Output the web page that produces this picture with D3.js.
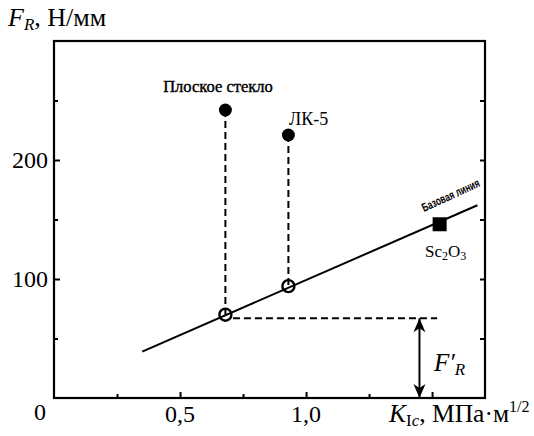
<!DOCTYPE html>
<html><head><meta charset="utf-8">
<script src="https://cdn.jsdelivr.net/npm/d3@7"></script>
<style>body{margin:0;background:#fff}svg{display:block}</style>
</head><body>
<script>
const materials = ["Плоское стекло", "ЛК-5", "Sc2O3"];
const kIc = [0.68, 0.93, 1.53];
const fR = [242, 221, 146];
const fRprime = [70, 94, null];
const baselineK = [0.35, 1.68];
const baselineF = [39, 162];
const fRefLevel = 67;
const fRefK = 1.45;
const fRefDashEnd = 1.52;
const xMajorTicks = [0.5, 1.0, 1.5];
const xMinorTicks = [0.25, 0.75, 1.25];
const xTickLabels = ["0,5", "1,0"];
const yMajorTicks = [100, 200];
const yMinorTicks = [50, 150, 250];
const yTickLabels = ["100", "200"];

const W = 534, H = 436;
const svg = d3.select("body").append("svg").attr("width", W).attr("height", H);
const x = d3.scaleLinear().domain([0, 1.71]).range([54, 485]);
const y = d3.scaleLinear().domain([0, 300]).range([398, 41]);
const serif = "'Liberation Serif','Times New Roman',serif";

// frame
svg.append("rect").attr("x", x(0)).attr("y", y(300)).attr("width", x(1.71) - x(0)).attr("height", y(0) - y(300))
  .attr("fill", "none").attr("stroke", "#000").attr("stroke-width", 2.2);

// ticks (inward) via axes
function styleAxis(g){ g.select(".domain").remove(); g.selectAll("line").attr("stroke","#000").attr("stroke-width",2); g.selectAll("text").remove(); }
svg.append("g").attr("transform", `translate(0,${y(0)})`).call(d3.axisBottom(x).tickValues(xMajorTicks).tickSize(-6)).call(styleAxis);
svg.append("g").attr("transform", `translate(0,${y(0)})`).call(d3.axisBottom(x).tickValues(xMinorTicks).tickSize(-4)).call(styleAxis);
svg.append("g").attr("transform", `translate(${x(0)},0)`).call(d3.axisLeft(y).tickValues(yMajorTicks).tickSize(-6)).call(styleAxis);
svg.append("g").attr("transform", `translate(${x(0)},0)`).call(d3.axisLeft(y).tickValues(yMinorTicks).tickSize(-4)).call(styleAxis);
svg.append("g").attr("transform", `translate(${x(1.71)},0)`).call(d3.axisRight(y).tickValues(yMajorTicks.concat(yMinorTicks)).tickSize(-5)).call(styleAxis);

// tick labels
xTickLabels.forEach((t, i) => {
  svg.append("text").attr("x", x(xMajorTicks[i])).attr("y", 422).attr("text-anchor", "middle")
    .attr("font-family", serif).attr("font-size", 24).text(t);
});
yTickLabels.forEach((t, i) => {
  svg.append("text").attr("x", 48).attr("y", y(yMajorTicks[i]) + 8).attr("text-anchor", "end")
    .attr("font-family", serif).attr("font-size", 24).text(t);
});
svg.append("text").attr("x", 40).attr("y", 420).attr("text-anchor", "middle")
  .attr("font-family", serif).attr("font-size", 24).text("0");

// axis titles
const yt = svg.append("text").attr("x", 8).attr("y", 26).attr("font-family", serif).attr("font-size", 26);
yt.append("tspan").attr("font-style", "italic").text("F");
yt.append("tspan").attr("font-style", "italic").attr("font-size", 17).attr("dy", 4).text("R");
yt.append("tspan").attr("dy", -4).text(", Н/мм");

const xt = svg.append("text").attr("x", 389).attr("y", 422).attr("font-family", serif).attr("font-size", 25.5);
xt.append("tspan").attr("font-style", "italic").text("K");
xt.append("tspan").attr("font-size", 17).attr("dy", 4).text("I");
xt.append("tspan").attr("font-size", 17).attr("font-style", "italic").text("c");
xt.append("tspan").attr("dy", -4).text(", МПа·м");
xt.append("tspan").attr("font-size", 16).attr("dy", -10).text("1/2");

// baseline
const line = d3.line().x(d => x(d[0])).y(d => y(d[1]));
svg.append("path").attr("d", line(d3.zip(baselineK, baselineF))).attr("stroke", "#000").attr("stroke-width", 2).attr("fill", "none");

// dashed verticals
[0, 1].forEach(i => {
  svg.append("path").attr("d", line([[kIc[i], fR[i]], [kIc[i], fRprime[i]]]))
    .attr("stroke", "#000").attr("stroke-width", 2).attr("stroke-dasharray", "7,4").attr("fill", "none");
});
// dashed horizontal
svg.append("path").attr("d", line([[kIc[0] + 0.03, fRefLevel], [fRefDashEnd, fRefLevel]]))
  .attr("stroke", "#000").attr("stroke-width", 2).attr("stroke-dasharray", "7,4").attr("fill", "none");

// double arrow
svg.append("path").attr("d", line([[fRefK, fRefLevel], [fRefK, 0]])).attr("stroke", "#000").attr("stroke-width", 2).attr("fill", "none");
const ax = x(fRefK), aTop = y(fRefLevel), aBot = y(0);
svg.append("path").attr("d", `M${ax},${aTop} L${ax-6},${aTop+14} L${ax},${aTop+10} L${ax+6},${aTop+14} Z`).attr("fill", "#000");
svg.append("path").attr("d", `M${ax},${aBot} L${ax-6},${aBot-14} L${ax},${aBot-10} L${ax+6},${aBot-14} Z`).attr("fill", "#000");

const fp = svg.append("text").attr("x", 434).attr("y", 371).attr("font-family", serif).attr("font-size", 25).attr("font-style", "italic");
fp.append("tspan").text("F′");
fp.append("tspan").attr("font-size", 17).attr("dy", 4).text("R");

// open circles
[0, 1].forEach(i => {
  svg.append("circle").attr("cx", x(kIc[i])).attr("cy", y(fRprime[i])).attr("r", 6)
    .attr("fill", "none").attr("stroke", "#000").attr("stroke-width", 2.4);
});
// filled circles
[0, 1].forEach(i => {
  svg.append("circle").attr("cx", x(kIc[i])).attr("cy", y(fR[i])).attr("r", 6.5).attr("fill", "#000");
});
// square
svg.append("rect").attr("x", x(kIc[2]) - 7).attr("y", y(fR[2]) - 7).attr("width", 14).attr("height", 14).attr("fill", "#000");

// labels
svg.append("text").attr("x", 218).attr("y", 92).attr("text-anchor", "middle").attr("font-family", serif).attr("font-size", 16.5).attr("stroke","#000").attr("stroke-width",0.4).text(materials[0]);
svg.append("text").attr("x", 289).attr("y", 125).attr("font-family", serif).attr("font-size", 18).text(materials[1]);
const sc = svg.append("text").attr("x", 425).attr("y", 257).attr("font-family", serif).attr("font-size", 17);
sc.append("tspan").text("Sc");
sc.append("tspan").attr("font-size", 12).attr("dy", 3).text("2");
sc.append("tspan").attr("dy", -3).text("O");
sc.append("tspan").attr("font-size", 12).attr("dy", 3).text("3");

// baseline label
const ang = Math.atan2(y(baselineF[1]) - y(baselineF[0]), x(baselineK[1]) - x(baselineK[0])) * 180 / Math.PI;
svg.append("text").attr("transform", `translate(424,212) rotate(${ang - 1}) scale(0.7,1)`)
  .attr("font-family", "'Liberation Sans',Arial,sans-serif")
  .attr("font-size", 12).attr("font-weight", "bold").text("Базовая линия");
</script>
</body></html>
